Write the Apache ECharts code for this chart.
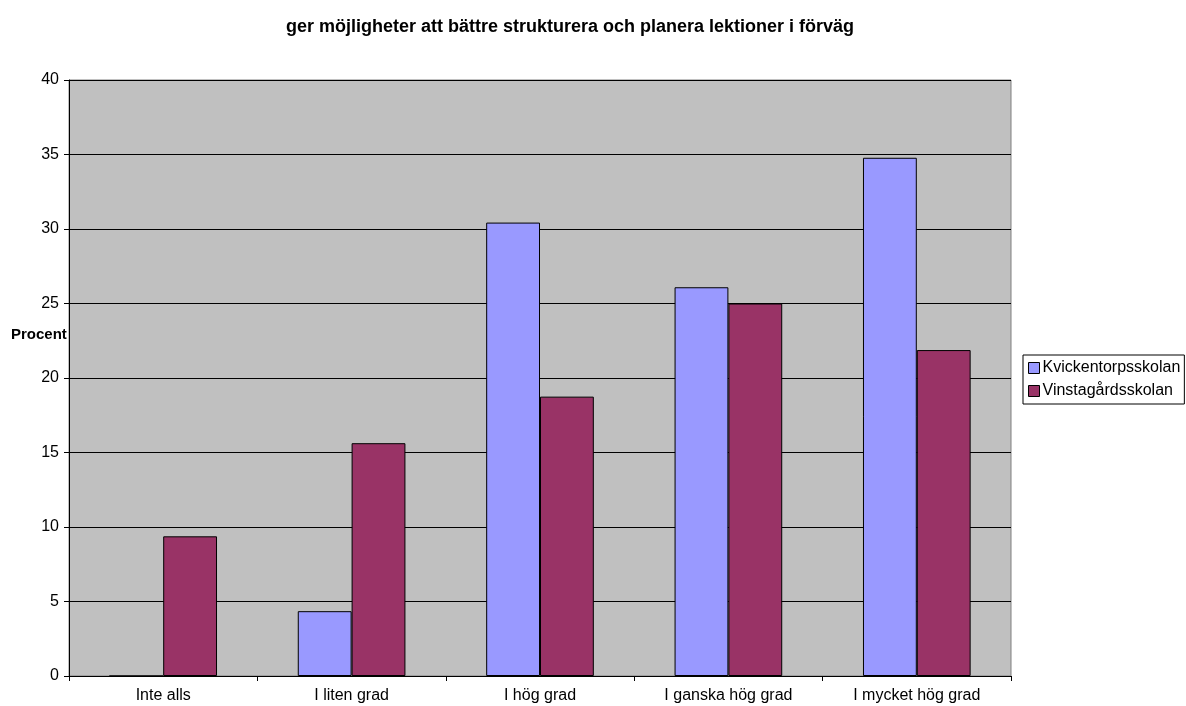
<!DOCTYPE html>
<html>
<head>
<meta charset="utf-8">
<script src="https://cdn.jsdelivr.net/npm/echarts@6/dist/echarts.min.js"></script>
<style>
html,body{margin:0;padding:0;background:#fff;}
#chart{width:1186px;height:706px;}
</style>
</head>
<body>
<div id="chart"></div>
<script>
const categories = ['Inte alls', 'I liten grad', 'I hög grad', 'I ganska hög grad', 'I mycket hög grad'];
const kvickentorp = [0, 4.35, 30.43, 26.09, 34.78];
const vinstagard = [9.375, 15.625, 18.75, 25, 21.875];
const seriesNames = ['Kvickentorpsskolan', 'Vinstagårdsskolan'];
const yTicks = { min: 0, max: 40, interval: 5 };
const titleText = 'ger möjligheter att bättre strukturera och planera lektioner i förväg';
const yName = 'Procent';

const chart = echarts.init(document.getElementById('chart'));
const font = 'Arial, "Liberation Sans", sans-serif';
chart.setOption({
  animation: false,
  textStyle: { fontFamily: font },
  graphic: [
    { type: 'text', x: 570, y: 27, style: { text: titleText, font: 'bold 18px ' + font, fill: '#000', textAlign: 'center', textVerticalAlign: 'middle' } },
    { type: 'text', x: 11, y: 335, style: { text: yName, font: 'bold 15px ' + font, fill: '#000', textAlign: 'left', textVerticalAlign: 'middle' } }
  ],
  grid: { left: 69, right: 175, top: 80, bottom: 30, show: true, backgroundColor: '#C0C0C0', borderColor: '#808080', borderWidth: 1 },
  legend: {
    orient: 'vertical', left: 1023, top: 355,
    data: seriesNames,
    icon: 'rect', itemWidth: 11, itemHeight: 11, itemGap: 7,
    borderColor: '#000', borderWidth: 1, padding: [5, 4, 5, 5],
    textStyle: { fontSize: 16, color: '#000', fontFamily: font, padding: [0, 0, 0, -2] },
    itemStyle: { borderColor: '#000', borderWidth: 1 }
  },
  xAxis: {
    type: 'category', data: categories,
    axisLine: { lineStyle: { color: '#000', width: 1 } },
    axisTick: { show: true, length: 5, lineStyle: { color: '#000' } },
    axisLabel: { color: '#000', fontSize: 16, margin: 12, fontFamily: font }
  },
  yAxis: {
    type: 'value', min: yTicks.min, max: yTicks.max, interval: yTicks.interval,
    axisLine: { show: true, lineStyle: { color: '#000', width: 1 } },
    axisTick: { show: true, length: 5, lineStyle: { color: '#000' } },
    axisLabel: { color: '#000', fontSize: 16, margin: 10, fontFamily: font },
    splitLine: { show: true, lineStyle: { color: '#000', width: 1 } }
  },
  series: [
    { name: seriesNames[0], type: 'bar', data: kvickentorp, barGap: '0%', barCategoryGap: '42.86%',
      itemStyle: { color: '#9999FF', borderColor: '#000', borderWidth: 1 } },
    { name: seriesNames[1], type: 'bar', data: vinstagard, barGap: '0%', barCategoryGap: '42.86%',
      itemStyle: { color: '#993366', borderColor: '#000', borderWidth: 1 } }
  ]
});
</script>
</body>
</html>
